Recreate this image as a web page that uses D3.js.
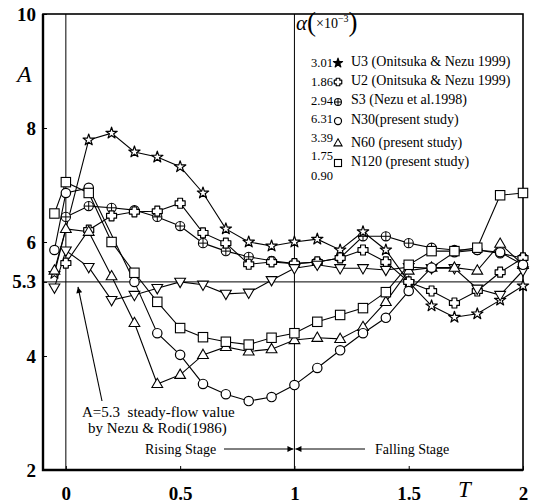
<!DOCTYPE html>
<html>
<head>
<meta charset="utf-8">
<script src="https://cdn.jsdelivr.net/npm/d3@7"></script>
<style>
  html, body { margin: 0; padding: 0; background: #fff; }
  svg { display: block; }
  text { font-family: "Liberation Serif", "Times New Roman", serif; fill: #000; }
</style>
</head>
<body>
<svg id="chart" width="535" height="504"></svg>
<script>
// ---------------- data ----------------
const T = [-0.05, 0, 0.1, 0.2, 0.3, 0.4, 0.5, 0.6, 0.7, 0.8, 0.9, 1.0,
           1.1, 1.2, 1.3, 1.4, 1.5, 1.6, 1.7, 1.8, 1.9, 2.0];
const U3   = [5.45, null, 7.79, 7.91, 7.58, 7.49, 7.32, 6.86, 6.23, 6.0, 5.93, 6.0,
              6.05, 5.86, 6.18, 5.86, 5.3, 4.88, 4.68, 4.74, 4.98, 5.23];
const U2   = [null, 5.63, 6.21, 6.46, 6.53, 6.54, 6.68, 6.16, 5.98, 5.61, 5.65, 5.62,
              5.65, 5.72, 5.86, 5.65, 5.3, 5.14, 4.93, 5.14, 5.47, 5.72];
const S3   = [null, 6.44, 6.63, 6.6, 6.56, 6.44, 6.28, 5.98, 5.84, 5.74, 5.67, 5.62,
              5.65, 5.72, 6.1, 6.1, 5.98, 5.9, 5.86, 5.86, 5.8, 5.72];
const N30  = [5.86, 6.86, 6.95, null, 5.3, 4.4, 4.02, 3.51, 3.33, 3.21, 3.28, 3.49,
              3.79, 4.1, 4.4, 4.67, 5.14, 5.55, 5.82, 5.86, 5.82, 5.6];
const N60  = [5.5, 6.23, 6.18, 5.4, 4.58, 3.51, 3.67, 4.02, 4.16, 4.08, 4.12, 4.28,
              4.32, 4.3, 4.51, 4.95, 5.5, 5.55, 5.55, 5.5, 5.97, 5.6];
const N120 = [6.5, 7.05, 6.86, 6.0, 5.46, 4.95, 4.49, 4.33, 4.25, 4.2, 4.32, 4.4,
              4.6, 4.72, 4.84, 5.12, 5.6, 5.84, 5.84, 5.9, 6.82, 6.86];
const DOWN = [5.2, 5.85, 5.56, 4.98, 5.07, 5.19, 5.3, 5.25, 5.09, 5.11, 5.33, 5.54,
              5.6, 5.54, 5.54, 5.51, 5.56, 5.54, 5.54, 5.18, 5.07, 5.5];

const xTicks = [0, 0.5, 1, 1.5, 2];
const yTicks = [2, 4, 5.3, 6, 8, 10];
const steadyA = 5.3;
const alphaValues = ["3.01", "1.86", "2.94", "6.31", "3.39", "1.75", "0.90"];
const legendLabels = ["U3 (Onitsuka & Nezu 1999)", "U2 (Onitsuka & Nezu 1999)",
                      "S3 (Nezu et al.1998)", "N30(present study)",
                      "N60 (present study)", "N120 (present study)"];

// ---------------- layout ----------------
const svg = d3.select("#chart");
const L = 43, R = 523, TOP = 14, B = 470;
const x = d3.scaleLinear().domain([-0.1, 2]).range([L, R]);
const y = d3.scaleLinear().domain([2, 10]).range([B, TOP]);

function crossPath(r, w) {
  return `M${-w},${-r}H${w}V${-w}H${r}V${w}H${w}V${r}H${-w}V${w}H${-r}V${-w}H${-w}Z`;
}

// symbol makers
function sym(g, type, cx, cy, legend) {
  const k = legend ? 0.75 : 1;
  if (type === "star") {
    g.append("path").attr("d", d3.symbol(d3.symbolStar, legend ? 26 : 40)())
      .attr("transform", `translate(${cx},${cy})`)
      .attr("fill", legend ? "#000" : "#fff").attr("stroke", "#000").attr("stroke-width", 1.2)
      .attr("stroke-linejoin", "round");
  } else if (type === "u2") {
    g.append("path").attr("d", crossPath(5 * k, 2.4 * k))
      .attr("transform", `translate(${cx},${cy})`)
      .attr("fill", "#fff").attr("stroke", "#000").attr("stroke-width", 1.2)
      .attr("stroke-linejoin", "round");
  } else if (type === "oplus") {
    const r = 4.6 * k;
    g.append("circle").attr("cx", cx).attr("cy", cy).attr("r", r)
      .attr("fill", "#fff").attr("stroke", "#000").attr("stroke-width", 1.1);
    g.append("path").attr("d", `M${cx-r},${cy}H${cx+r}M${cx},${cy-r}V${cy+r}`)
      .attr("stroke", "#000").attr("stroke-width", 1);
  } else if (type === "circle") {
    g.append("circle").attr("cx", cx).attr("cy", cy).attr("r", 4.7 * k)
      .attr("fill", "#fff").attr("stroke", "#000").attr("stroke-width", 1.2);
  } else if (type === "tri") {
    g.append("path").attr("d", d3.symbol(d3.symbolTriangle, 50 * k * k)())
      .attr("transform", `translate(${cx},${cy+0.5})`)
      .attr("fill", "#fff").attr("stroke", "#000").attr("stroke-width", 1.1);
  } else if (type === "tridown") {
    g.append("path").attr("d", d3.symbol(d3.symbolTriangle, 50 * k * k)())
      .attr("transform", `translate(${cx},${cy-0.5}) rotate(180)`)
      .attr("fill", "#fff").attr("stroke", "#000").attr("stroke-width", 1.1);
  } else if (type === "square") {
    const h = 4.7 * k;
    g.append("rect").attr("x", cx - h).attr("y", cy - h)
      .attr("width", 2 * h).attr("height", 2 * h)
      .attr("fill", "#fff").attr("stroke", "#000").attr("stroke-width", 1.1);
  }
}

const series = [
  { vals: S3, type: "oplus" },
  { vals: U3, type: "star" },
  { vals: U2, type: "u2" },
  { vals: DOWN, type: "tridown" },
  { vals: N60, type: "tri" },
  { vals: N30, type: "circle" },
  { vals: N120, type: "square" }
];

// reference lines
svg.append("line").attr("x1", L).attr("x2", R).attr("y1", y(steadyA)).attr("y2", y(steadyA))
  .attr("stroke", "#000").attr("stroke-width", 1);
[0, 1].forEach(v => {
  svg.append("line").attr("x1", x(v)).attr("x2", x(v)).attr("y1", TOP).attr("y2", B)
    .attr("stroke", "#000").attr("stroke-width", 1);
});

// axes
const yAxis = d3.axisLeft(y).tickValues(yTicks).tickSize(-4).tickPadding(7)
  .tickFormat(d => d === 5.3 ? "5.3" : d3.format("d")(d));
const gy = svg.append("g").attr("transform", `translate(${L},0)`).call(yAxis);
gy.select(".domain").remove();
gy.selectAll("text").style("font-size", "19px").style("font-weight", "bold")
  .style("font-family", '"Liberation Serif", serif');

const xAxis = d3.axisBottom(x).tickValues(xTicks).tickSize(-4).tickPadding(17)
  .tickFormat(d => String(d));
const gx = svg.append("g").attr("transform", `translate(0,${B})`).call(xAxis);
gx.select(".domain").remove();
gx.selectAll("text").style("font-size", "19px").style("font-weight", "bold")
  .style("font-family", '"Liberation Serif", serif');

// frame
svg.append("rect").attr("x", L).attr("y", TOP).attr("width", R - L).attr("height", B - TOP)
  .attr("fill", "none").attr("stroke", "#000").attr("stroke-width", 1.6);
svg.append("path").attr("d", `M${L},${TOP}V${B}H${R}`).attr("fill", "none")
  .attr("stroke", "#000").attr("stroke-width", 2.4);

// axis titles
svg.append("text").attr("x", 17).attr("y", 82).style("font-size", "24px")
  .style("font-style", "italic").text("A");
svg.append("text").attr("x", 458).attr("y", 497).style("font-size", "23px")
  .style("font-style", "italic").text("T");

// series lines & markers
const line = d3.line().x(d => x(d[0])).y(d => y(d[1]));
series.forEach(s => {
  const pts = T.map((t, i) => [t, s.vals[i]]).filter(d => d[1] != null);
  svg.append("path").attr("d", line(pts)).attr("fill", "none")
    .attr("stroke", "#000").attr("stroke-width", 1.1);
});
series.forEach(s => {
  const g = svg.append("g");
  T.forEach((t, i) => {
    if (s.vals[i] != null) sym(g, s.type, x(t), y(s.vals[i]), false);
  });
});

// legend
const lg = svg.append("g");
const hdr = lg.append("text").attr("x", 296).attr("y", 30);
hdr.append("tspan").style("font-style", "italic").style("font-size", "21px").text("α");
hdr.append("tspan").style("font-size", "27px").attr("dy", 1).text("(");
hdr.append("tspan").style("font-size", "14px").attr("dy", -3).text("×10");
hdr.append("tspan").style("font-size", "10px").attr("dy", -6).text("−3");
hdr.append("tspan").style("font-size", "27px").attr("dy", 9).text(")");

const valY = [62, 81, 100, 118, 137, 155, 175];
alphaValues.forEach((v, i) => {
  lg.append("text").attr("x", 311).attr("y", valY[i] + 4.5)
    .style("font-size", "12.5px").text(v);
});
const symY = [63, 82, 102, 121, 143, 163];
const labY = [61, 80, 99, 119, 142, 161];
const legTypes = ["star", "u2", "oplus", "circle", "tri", "square"];
legendLabels.forEach((lab, i) => {
  sym(lg, legTypes[i], 338, symY[i], true);
  lg.append("text").attr("x", 351).attr("y", labY[i] + 4.5)
    .style("font-size", "14px").text(lab);
});

// annotations
const defs = svg.append("defs");
defs.append("marker").attr("id", "ah").attr("viewBox", "0 0 10 10")
  .attr("refX", 10).attr("refY", 5).attr("markerWidth", 8).attr("markerHeight", 6)
  .attr("markerUnits", "userSpaceOnUse").attr("orient", "auto")
  .append("path").attr("d", "M0,0L10,5L0,10Z").attr("fill", "#000");
defs.append("marker").attr("id", "ah2").attr("viewBox", "0 0 10 10")
  .attr("refX", 10).attr("refY", 5).attr("markerWidth", 12).attr("markerHeight", 6)
  .attr("markerUnits", "userSpaceOnUse").attr("orient", "auto")
  .append("path").attr("d", "M0,0L10,5L0,10Z").attr("fill", "#000");

svg.append("line").attr("x1", 102).attr("y1", 401).attr("x2", 78).attr("y2", y(steadyA) + 5)
  .attr("stroke", "#000").attr("stroke-width", 1.1).attr("marker-end", "url(#ah2)");
svg.append("text").attr("x", 82).attr("y", 417).style("font-size", "15px")
  .style("white-space", "pre").attr("xml:space", "preserve")
  .text("A=5.3  steady-flow value");
svg.append("text").attr("x", 88).attr("y", 433).style("font-size", "15px")
  .text("by Nezu & Rodi(1986)");

const stageY = 449;
svg.append("text").attr("x", 145).attr("y", stageY + 4.5).style("font-size", "14px")
  .text("Rising Stage");
svg.append("line").attr("x1", 224).attr("x2", x(1) - 1).attr("y1", stageY).attr("y2", stageY)
  .attr("stroke", "#000").attr("stroke-width", 1).attr("marker-end", "url(#ah)");
svg.append("text").attr("x", 375).attr("y", stageY + 4.5).style("font-size", "14px")
  .text("Falling Stage");
svg.append("line").attr("x1", 365).attr("x2", x(1) + 1).attr("y1", stageY).attr("y2", stageY)
  .attr("stroke", "#000").attr("stroke-width", 1).attr("marker-end", "url(#ah)");
</script>
</body>
</html>
